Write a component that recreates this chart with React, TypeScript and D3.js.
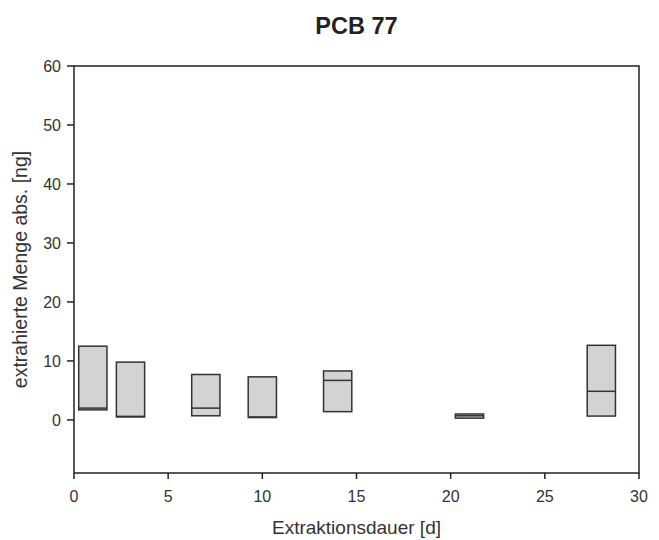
import React from "react";
import * as d3 from "d3";

const days = [1, 3, 7, 10, 14, 21, 28];
const lowValues = [1.7, 0.5, 0.7, 0.4, 1.4, 0.3, 0.65];
const medianValues = [2.0, 0.6, 2.0, 0.5, 6.7, 0.7, 4.85];
const highValues = [12.5, 9.8, 7.7, 7.3, 8.3, 1.0, 12.65];
const xTicks = [0, 5, 10, 15, 20, 25, 30];
const yTicks = [0, 10, 20, 30, 40, 50, 60];
const boxWidthDays = 1.5;

const W = 659;
const H = 540;
const M = { left: 74, right: 639, top: 66, bottom: 473 };

export default function App() {
  const x = d3.scaleLinear().domain([0, 30]).range([M.left, M.right]);
  const y = d3.scaleLinear().domain([-9, 60]).range([M.bottom, M.top]);
  const font = "'Liberation Sans', Arial, sans-serif";
  const textColor = "#333";
  const stroke = "#333";
  return (
    <svg
      width={W}
      height={H}
      style={{ position: "absolute", left: 0, top: 0, background: "#fff" }}
      fontFamily={font}
    >
      <rect x={0} y={0} width={W} height={H} fill="#fff" />
      <text x={(M.left + M.right) / 2} y={34} textAnchor="middle" fontSize={23.5} fontWeight="bold" fill="#222">
        PCB 77
      </text>
      {/* boxes */}
      {days.map((d, i) => {
        const x0 = x(d - boxWidthDays / 2);
        const x1 = x(d + boxWidthDays / 2);
        const yTop = y(highValues[i]);
        const yBot = y(lowValues[i]);
        return (
          <g key={i}>
            <rect x={x0} y={yTop} width={x1 - x0} height={yBot - yTop} fill="#d3d3d3" stroke={stroke} strokeWidth={1.5} />
            <line x1={x0} x2={x1} y1={y(medianValues[i])} y2={y(medianValues[i])} stroke={stroke} strokeWidth={1.5} />
          </g>
        );
      })}
      {/* frame */}
      <rect x={M.left} y={M.top} width={M.right - M.left} height={M.bottom - M.top} fill="none" stroke="#222" strokeWidth={1.5} />
      {/* y ticks */}
      {yTicks.map((t) => (
        <g key={"y" + t}>
          <line x1={M.left - 7} x2={M.left} y1={y(t)} y2={y(t)} stroke="#222" strokeWidth={1.5} />
          <text x={M.left - 13} y={y(t)} dy="0.36em" textAnchor="end" fontSize={16} fill={textColor}>
            {t}
          </text>
        </g>
      ))}
      {/* x ticks */}
      {xTicks.map((t) => (
        <g key={"x" + t}>
          <line x1={x(t)} x2={x(t)} y1={M.bottom} y2={M.bottom + 6} stroke="#222" strokeWidth={1.5} />
          <text x={x(t)} y={M.bottom + 29} textAnchor="middle" fontSize={16} fill={textColor}>
            {t}
          </text>
        </g>
      ))}
      <text x={(M.left + M.right) / 2} y={534} textAnchor="middle" fontSize={19} fill={textColor}>
        Extraktionsdauer [d]
      </text>
      <text
        transform={`translate(27, ${(M.top + M.bottom) / 2}) rotate(-90)`}
        textAnchor="middle"
        fontSize={19.5}
        fill={textColor}
      >
        extrahierte Menge abs. [ng]
      </text>
    </svg>
  );
}
